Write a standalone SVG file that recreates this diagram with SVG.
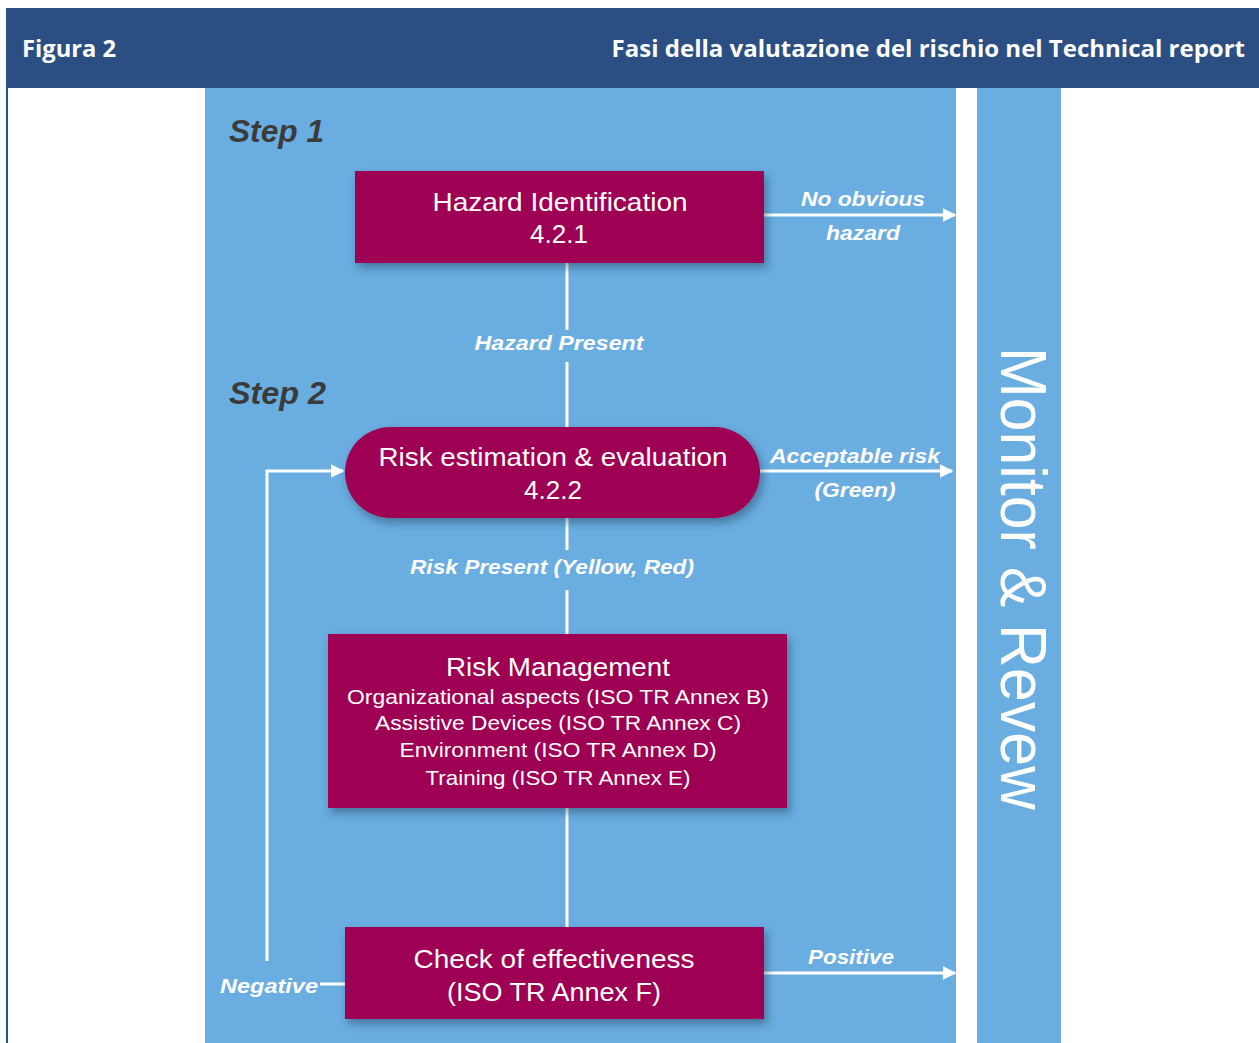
<svg xmlns="http://www.w3.org/2000/svg" width="1259" height="1043" viewBox="0 0 1259 1043">
<defs>
<style>
.hdr{font-family:"Open Sans","Liberation Sans",sans-serif;font-weight:700;font-size:24px;fill:#ffffff}
.box{fill:#9e0052}
.bt{font-family:"Liberation Sans",Arial,sans-serif;fill:#ffffff;text-anchor:middle}
.lbl{font-family:"Liberation Sans",Arial,sans-serif;font-weight:700;font-style:italic;font-size:21px;fill:#ffffff;text-anchor:middle}
.step{font-family:"Liberation Sans",Arial,sans-serif;font-weight:700;font-style:italic;font-size:32px;fill:#3b3b3b}
.ln{stroke:#ffffff;stroke-width:3;fill:none}
</style>
<filter id="sh" x="-10%" y="-20%" width="125%" height="150%">
<feDropShadow dx="3" dy="5" stdDeviation="4" flood-color="#1a3550" flood-opacity="0.45"/>
</filter>
<marker id="ah" viewBox="0 0 10 10" refX="9" refY="5" markerWidth="4.5" markerHeight="5" markerUnits="strokeWidth" orient="auto">
<path d="M0,0 L10,5 L0,10 z" fill="#ffffff"/>
</marker>
</defs>
<rect width="1259" height="1043" fill="#ffffff"/>
<g id="header">
<rect x="6" y="8" width="1253" height="80" fill="#2b4f83"/>
<rect x="6" y="88" width="2" height="955" fill="#2b4f83"/>
<text class="hdr" x="22" y="57" textLength="94" lengthAdjust="spacingAndGlyphs">Figura 2</text>
<text class="hdr" x="1245" y="57" text-anchor="end">Fasi della valutazione del rischio nel Technical report</text>
</g>
<g id="panel">
<rect x="205" y="88" width="751" height="955" fill="#6aade0"/>
<text class="step" x="229" y="142" textLength="95" lengthAdjust="spacingAndGlyphs">Step 1</text>
<text class="step" x="229" y="404" textLength="97" lengthAdjust="spacingAndGlyphs">Step 2</text>
</g>
<g id="monitor">
<rect x="977" y="88" width="84" height="955" fill="#6aade0"/>
<text transform="translate(1001,347) rotate(90)" x="0" y="0" font-family="'Liberation Sans',Arial,sans-serif" font-size="64" fill="#ffffff" textLength="463" lengthAdjust="spacingAndGlyphs">Monitor &amp; Revew</text>
</g>
<g id="connectors">
<line class="ln" x1="567" y1="263" x2="567" y2="330"/>
<line class="ln" x1="567" y1="362" x2="567" y2="427"/>
<line class="ln" x1="567" y1="518" x2="567" y2="550"/>
<line class="ln" x1="567" y1="590" x2="567" y2="634"/>
<line class="ln" x1="567" y1="808" x2="567" y2="927"/>
<line class="ln" x1="764" y1="215" x2="955" y2="215" marker-end="url(#ah)"/>
<line class="ln" x1="760" y1="471" x2="952" y2="471" marker-end="url(#ah)"/>
<line class="ln" x1="764" y1="973" x2="955" y2="973" marker-end="url(#ah)"/>
<line class="ln" x1="320" y1="984" x2="345" y2="984"/>
<polyline class="ln" points="267,961 267,471 343,471" marker-end="url(#ah)"/>
<text class="lbl" x="863" y="206" textLength="124" lengthAdjust="spacingAndGlyphs">No obvious</text>
<text class="lbl" x="863" y="240" textLength="74" lengthAdjust="spacingAndGlyphs">hazard</text>
<text class="lbl" x="559" y="350" textLength="169" lengthAdjust="spacingAndGlyphs">Hazard Present</text>
<text class="lbl" x="855" y="463" textLength="170" lengthAdjust="spacingAndGlyphs">Acceptable risk</text>
<text class="lbl" x="855" y="497" textLength="81" lengthAdjust="spacingAndGlyphs">(Green)</text>
<text class="lbl" x="552" y="574" textLength="284" lengthAdjust="spacingAndGlyphs">Risk Present (Yellow, Red)</text>
<text class="lbl" x="851" y="964" textLength="86" lengthAdjust="spacingAndGlyphs">Positive</text>
<text class="lbl" x="269" y="993" textLength="98" lengthAdjust="spacingAndGlyphs">Negative</text>
</g>
<g id="hazard-identification">
<rect class="box" x="355" y="171" width="409" height="92" filter="url(#sh)"/>
<text class="bt" x="560" y="211" font-size="26" textLength="255" lengthAdjust="spacingAndGlyphs">Hazard Identification</text>
<text class="bt" x="559" y="243" font-size="26">4.2.1</text>
</g>
<g id="risk-estimation">
<rect class="box" x="345" y="427" width="415" height="91" rx="45.5" ry="45.5" filter="url(#sh)"/>
<text class="bt" x="553" y="466" font-size="26" textLength="349" lengthAdjust="spacingAndGlyphs">Risk estimation &amp; evaluation</text>
<text class="bt" x="553" y="499" font-size="26">4.2.2</text>
</g>
<g id="risk-management">
<rect class="box" x="328" y="634" width="459" height="174" filter="url(#sh)"/>
<text class="bt" x="558" y="676" font-size="26" textLength="224" lengthAdjust="spacingAndGlyphs">Risk Management</text>
<text class="bt" x="558" y="704" font-size="21" textLength="422" lengthAdjust="spacingAndGlyphs">Organizational aspects (ISO TR Annex B)</text>
<text class="bt" x="558" y="730" font-size="21" textLength="366" lengthAdjust="spacingAndGlyphs">Assistive Devices (ISO TR Annex C)</text>
<text class="bt" x="558" y="757" font-size="21" textLength="317" lengthAdjust="spacingAndGlyphs">Environment (ISO TR Annex D)</text>
<text class="bt" x="558" y="785" font-size="21" textLength="265" lengthAdjust="spacingAndGlyphs">Training (ISO TR Annex E)</text>
</g>
<g id="check-effectiveness">
<rect class="box" x="345" y="927" width="419" height="92" filter="url(#sh)"/>
<text class="bt" x="554" y="968" font-size="26" textLength="281" lengthAdjust="spacingAndGlyphs">Check of effectiveness</text>
<text class="bt" x="554" y="1001" font-size="26" textLength="214" lengthAdjust="spacingAndGlyphs">(ISO TR Annex F)</text>
</g>
</svg>
